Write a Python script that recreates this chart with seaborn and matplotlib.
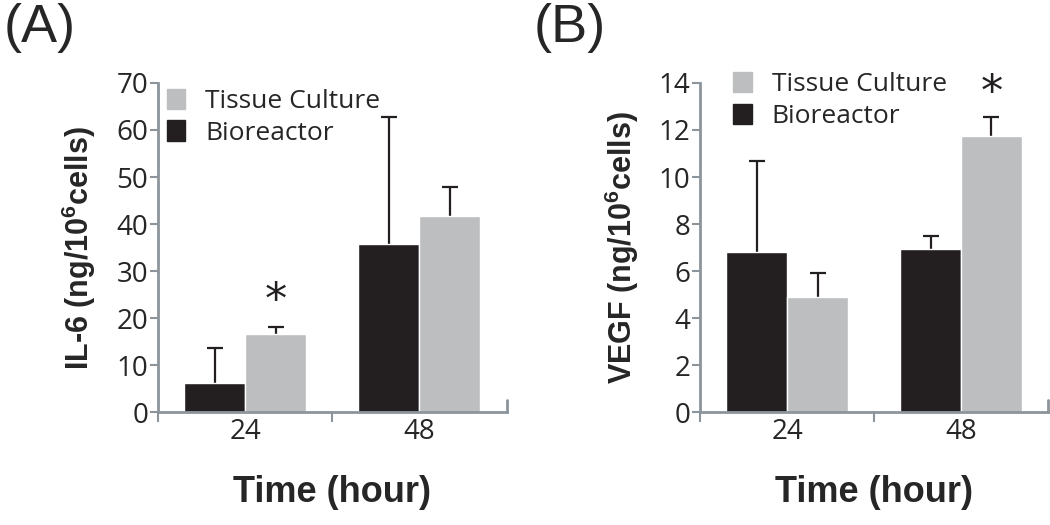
import numpy as np
import pandas as pd
import matplotlib
matplotlib.use("Agg")
import matplotlib.pyplot as plt
import seaborn as sns
from matplotlib.patches import Patch

# data
times = ["24", "48"]
conditions = ["Bioreactor", "Tissue Culture"]

il6_bio = [6.2, 35.7]
il6_bio_sd = [7.4, 27.0]
il6_tc = [16.7, 41.8]
il6_tc_sd = [1.3, 6.0]

vegf_bio = [6.8, 6.95]
vegf_bio_sd = [3.9, 0.55]
vegf_tc = [4.9, 11.75]
vegf_tc_sd = [1.0, 0.8]

# significance markers (time, condition, y)
il6_star = ("24", "Tissue Culture", 23.6)
vegf_star = ("48", "Tissue Culture", 13.55)

colors = {"Bioreactor": "#231f20", "Tissue Culture": "#bcbec0"}
axis_gray = "#8c959b"

sns.set_style("white")
plt.rcParams['font.family'] = ['Open Sans', 'DejaVu Sans']
plt.rcParams['mathtext.fontset'] = 'custom'
plt.rcParams['mathtext.bf'] = 'Liberation Sans:bold'


def make_df(bio, bio_sd, tc, tc_sd):
    return pd.DataFrame({
        "time": times * 2,
        "condition": ["Bioreactor"] * 2 + ["Tissue Culture"] * 2,
        "value": bio + tc,
        "sd": bio_sd + tc_sd,
    })


def draw_panel(ax, df, ymax, ystep, ylabel, star, leg_anchor):
    sns.barplot(data=df, x="time", y="value", hue="condition",
                order=times, hue_order=conditions, palette=colors,
                errorbar=None, width=0.7, saturation=1, ax=ax, legend=False,
                zorder=2)
    # error bars: upper half only, stem + cap at the top
    for cont, cond in zip(ax.containers, conditions):
        sub = df[df.condition == cond].set_index("time").loc[times]
        xs = [p.get_x() + p.get_width() / 2 for p in cont.patches]
        tops = sub["value"] + sub["sd"]
        ax.errorbar(xs, sub["value"], yerr=[np.zeros(len(xs)), sub["sd"]],
                    fmt="none", ecolor="#231f20", elinewidth=1.6,
                    capsize=0, zorder=1)
        ax.plot(xs, tops, ls="none", marker="_", ms=11, mew=1.6,
                color="#231f20", zorder=1)
        if cond == star[1]:
            i = times.index(star[0])
            ax.text(xs[i], star[2], "*", ha="center", va="center",
                    fontsize=32, family="DejaVu Sans", color="#231f20")
    ax.set_xlim(-0.5, 1.5)
    ax.set_ylim(0, ymax)
    ax.set_yticks(np.arange(0, ymax + 0.1, ystep))
    ax.set_xticks([-0.5, 0.5], minor=True)
    for s in ["top", "right"]:
        ax.spines[s].set_visible(False)
    for s in ["left", "bottom"]:
        ax.spines[s].set_color(axis_gray)
        ax.spines[s].set_linewidth(2)
        ax.spines[s].set_zorder(3)
    ax.tick_params(axis="y", which="major", direction="out", length=6,
                   width=1.5, color=axis_gray, labelsize=20, pad=1,
                   left=True)
    ax.tick_params(axis="x", which="major", length=0, labelsize=20, pad=4)
    ax.tick_params(axis="x", which="minor", direction="out", length=7,
                   width=1.5, color=axis_gray, bottom=True)
    ax.plot([1.5, 1.5], [0, 0.036], transform=ax.get_xaxis_transform(),
            color=axis_gray, lw=2, clip_on=False)
    ax.set_ylabel(ylabel, fontsize=22, fontweight="bold",
                  family="Liberation Sans", labelpad=13)
    ax.set_xlabel("Time (hour)", fontsize=26, fontweight="bold",
                  family="Liberation Sans", labelpad=21)
    handles = [Patch(color=colors["Tissue Culture"], label="Tissue Culture"),
               Patch(color=colors["Bioreactor"], label="Bioreactor")]
    ax.legend(handles=handles, loc="upper left", bbox_to_anchor=leg_anchor,
              frameon=False, fontsize=19, handlelength=0.7,
              handleheight=0.8, handletextpad=0.75, labelspacing=0.25,
              borderaxespad=0)


fig = plt.figure(figsize=(10.5, 5.25), dpi=100)
ax1 = fig.add_axes([0.1505, 0.215, 0.332, 0.627])
ax2 = fig.add_axes([0.667, 0.215, 0.331, 0.627])

draw_panel(ax1, make_df(il6_bio, il6_bio_sd, il6_tc, il6_tc_sd), 70, 10,
           r"IL-6 (ng/10$\mathbf{^6}$cells)", il6_star, (-0.005, 1.015))
draw_panel(ax2, make_df(vegf_bio, vegf_bio_sd, vegf_tc, vegf_tc_sd), 14, 2,
           r"VEGF (ng/10$\mathbf{^6}$cells)", vegf_star, (0.065, 1.065))

fig.text(0.003, 0.995, "(A)", fontsize=39, family="Liberation Sans",
         ha="left", va="top")
fig.text(0.508, 0.995, "(B)", fontsize=39, family="Liberation Sans",
         ha="left", va="top")

fig.savefig("out.png", dpi=100)
